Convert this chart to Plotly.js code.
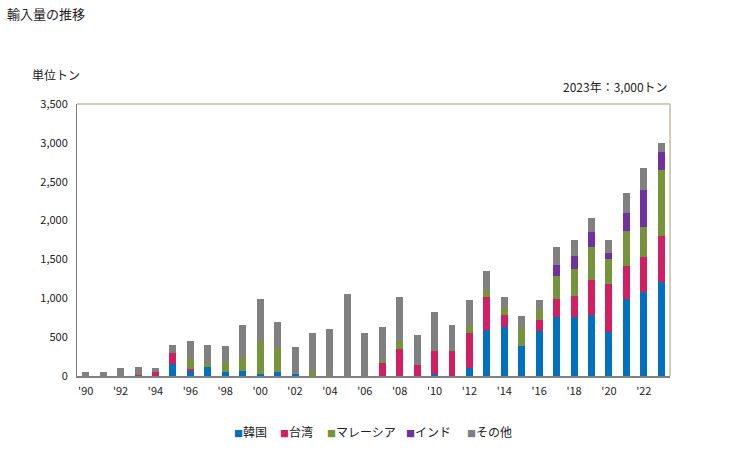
<!DOCTYPE html>
<html>
<head>
<meta charset="utf-8">
<script src="https://cdn.plot.ly/plotly-3.0.1.min.js"></script>
<style>html,body{margin:0;padding:0;background:#fff;}#chart{width:729px;height:450px;}</style>
</head>
<body>
<div id="chart"></div>
<script>
const years = ['1990','1991','1992','1993','1994','1995','1996','1997','1998','1999','2000','2001','2002','2003','2004','2005','2006','2007','2008','2009','2010','2011','2012','2013','2014','2015','2016','2017','2018','2019','2020','2021','2022','2023'];
const tickVals = ['1990','1992','1994','1996','1998','2000','2002','2004','2006','2008','2010','2012','2014','2016','2018','2020','2022'];
const tickLabels = ["'90","'92","'94","'96","'98","'00","'02","'04","'06","'08","'10","'12","'14","'16","'18","'20","'22"];

const korea    = [0,0,0,0,0,155,70,115,55,70,25,50,25,0,0,0,0,0,0,0,25,0,107,596,630,390,579,760,755,781,562,986,1077,1215];
const taiwan   = [0,0,0,15,50,140,17,0,0,0,0,0,0,0,0,0,0,167,347,142,296,322,446,420,154,0,146,232,270,450,618,425,450,590];
const malaysia = [0,0,0,15,0,0,133,50,130,167,425,310,0,65,15,0,0,25,103,0,0,8,90,94,94,232,137,296,347,425,322,450,386,848];
const india    = [0,0,0,0,0,0,0,0,0,0,0,0,0,0,0,0,0,0,0,0,0,0,0,0,0,0,0,142,167,193,77,232,476,232];
const others   = [50,50,100,90,50,100,230,232,200,420,540,335,348,490,590,1055,553,438,567,386,502,326,335,240,137,150,116,232,206,180,167,257,283,115];

const seriesNames = ['韓国','台湾','マレーシア','インド','その他'];
const seriesColors = ['#0070C0','#D01F62','#77933C','#7030A0','#808080'];
const seriesData = [korea, taiwan, malaysia, india, others];

const font = '"Noto Sans CJK JP", "Noto Sans", sans-serif';
const PW = 593, PH = 272, ML = 77, MT = 104;
const px = v => (v - ML) / PW;
const py = v => 1 - (v - MT) / PH;

const traces = seriesData.map((d, i) => ({
  type: 'bar',
  x: years,
  y: d,
  name: seriesNames[i],
  marker: {color: seriesColors[i], line: {width: 0}},
  hoverinfo: 'skip'
}));

// legend drawn as text entries: coloured square + series name
const legendX = [232, 278, 325, 404, 465];
const legendAnn = seriesNames.map((n, i) => ({
  text: '<span style="color:' + seriesColors[i] + ';font-size:9px">■</span>' + n,
  xref: 'paper', yref: 'paper', x: px(legendX[i]), y: py(431),
  xanchor: 'left', yanchor: 'middle', showarrow: false,
  font: {family: font, size: 12, color: '#222'}
}));

const layout = {
  width: 729, height: 450,
  margin: {l: ML, r: 729 - ML - PW, t: MT, b: 450 - MT - PH},
  paper_bgcolor: '#fff', plot_bgcolor: '#fff',
  barmode: 'stack',
  bargap: 0.6,
  font: {family: font, size: 11, color: '#222'},
  showlegend: false,
  xaxis: {
    type: 'category',
    categoryorder: 'array', categoryarray: years,
    tickmode: 'array', tickvals: tickVals, ticktext: tickLabels,
    showgrid: false, zeroline: false,
    showline: true, linecolor: '#808080', linewidth: 2,
    ticks: '', ticklabelstandoff: 4,
    tickfont: {family: font, size: 11, color: '#222'},
    range: [-0.5, 33.5], fixedrange: true
  },
  yaxis: {
    range: [0, 3500], tickmode: 'linear', tick0: 0, dtick: 500,
    tickformat: ',d',
    showgrid: false, zeroline: false,
    showline: true, linecolor: '#808080', linewidth: 1,
    ticks: '', ticklabelstandoff: 6,
    tickfont: {family: font, size: 11, color: '#222'},
    fixedrange: true
  },
  shapes: [
    {type: 'line', xref: 'paper', yref: 'paper', x0: 0, x1: 1, y0: 1, y1: 1, line: {color: '#C8BE9A', width: 1.5}},
    {type: 'line', xref: 'paper', yref: 'paper', x0: 1, x1: 1, y0: 0, y1: 1, line: {color: '#C8BE9A', width: 1.5}}
  ],
  annotations: [
    {text: '輸入量の推移', xref: 'paper', yref: 'paper', x: px(5), y: py(13), xanchor: 'left', yanchor: 'middle', showarrow: false, font: {family: font, size: 13, color: '#222'}},
    {text: '単位トン', xref: 'paper', yref: 'paper', x: px(30), y: py(75), xanchor: 'left', yanchor: 'middle', showarrow: false, font: {family: font, size: 12, color: '#222'}},
    {text: '2023年：3,000トン', xref: 'paper', yref: 'paper', x: 1, y: py(86), xanchor: 'right', yanchor: 'middle', showarrow: false, font: {family: font, size: 12, color: '#222'}}
  ].concat(legendAnn)
};

Plotly.newPlot('chart', traces, layout, {displayModeBar: false, staticPlot: true});
</script>
</body>
</html>
